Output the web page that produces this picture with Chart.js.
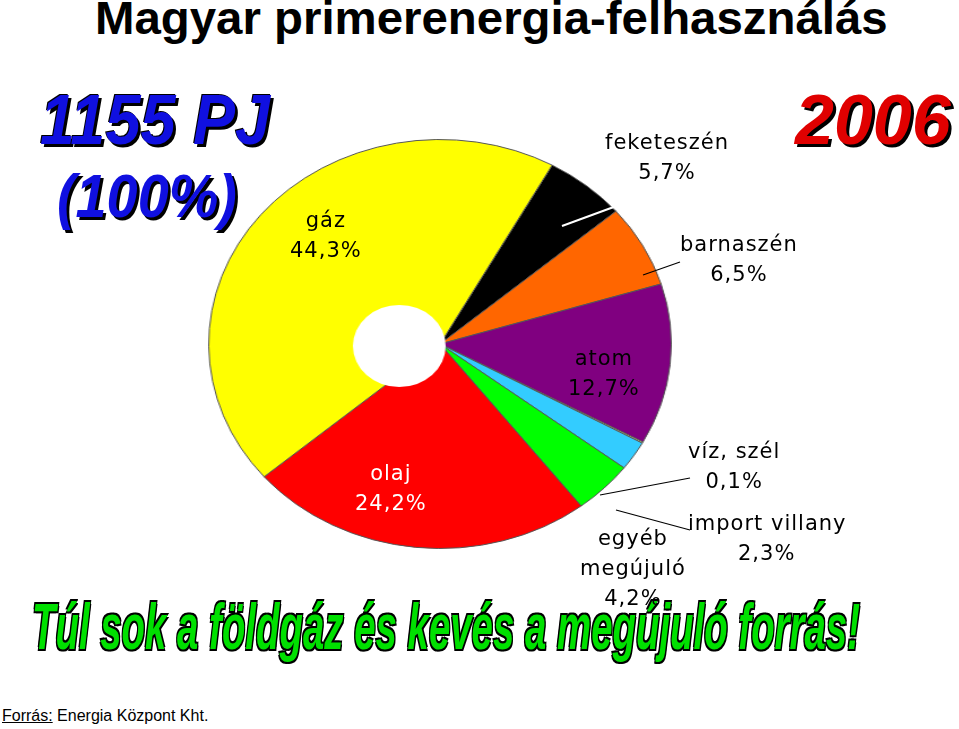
<!DOCTYPE html><html><head><meta charset="utf-8">
<script src="https://cdn.jsdelivr.net/npm/chart.js@4/dist/chart.umd.min.js"></script>
<style>
body{margin:0;width:959px;height:729px;background:#fff;position:relative;overflow:hidden;font-family:"Liberation Sans",Arial,sans-serif}
.a{position:absolute;white-space:nowrap}
.lab{font-family:"DejaVu Sans",sans-serif;font-size:20px;text-align:center;line-height:30px;letter-spacing:1px}
.big{font-family:"Liberation Sans",Arial;font-weight:bold;font-style:italic;transform:scaleX(0.9);transform-origin:left top;}
#wrap{position:absolute;left:234px;top:138px;width:412px;height:412px;transform:scaleX(1.131);transform-origin:center}
</style></head><body>
<div class="a" style="left:95px;top:-9px;font-size:46px;font-weight:bold;transform:scaleX(1.03);transform-origin:left top">Magyar primerenergia-felhasználás</div>
<div class="a big" style="left:40px;top:80px;font-size:70px;color:#1010e0;text-shadow:3px 3px 0 #000,-1px -1px 0 #000">1155 PJ</div>
<div class="a big" style="left:57px;top:160px;font-size:62px;color:#1010e0;text-shadow:3px 3px 0 #000">(100%)</div>
<div class="a big" style="left:795px;top:80px;font-size:70px;color:#e00000;text-shadow:3px 3px 0 #000;transform:scaleX(1)">2006</div>
<div class="a big" style="left:32px;top:590px;font-size:64px;color:#00e000;text-shadow:2px 2px 0 #000,-2px -2px 0 #000,2px -2px 0 #000,-2px 2px 0 #000;transform:scaleX(0.6)">Túl sok a földgáz és kevés a megújuló forrás!</div>
<div class="a" style="left:2px;top:707px;font-size:16px"><u>Forrás:</u> Energia Központ Kht.</div>
<div id="wrap"><canvas id="c" width="412" height="412"></canvas></div>
<svg class="a" style="left:0;top:0" width="959" height="729">
<g stroke="#fff" stroke-width="2"><line x1="562" y1="226" x2="660" y2="190"/></g>
<g stroke="#000" stroke-width="1.2"><line x1="643" y1="275" x2="680" y2="262"/><line x1="600" y1="495" x2="690" y2="478"/><line x1="616" y1="510" x2="690" y2="530"/></g>
</svg>
<div class="a lab" style="left:290px;top:205px;font-size:21px">gáz<br>44,3%</div>
<div class="a lab" style="left:605px;top:127px;font-size:21px">feketeszén<br>5,7%</div>
<div class="a lab" style="left:680px;top:229px;font-size:21px">barnaszén<br>6,5%</div>
<div class="a lab" style="left:568px;top:343px;font-size:21px">atom<br>12,7%</div>
<div class="a lab" style="left:355px;top:458px;color:#fff;font-size:21px">olaj<br>24,2%</div>
<div class="a lab" style="left:688px;top:436px;font-size:21px">víz, szél<br>0,1%</div>
<div class="a lab" style="left:688px;top:508px;font-size:21px">import villany</div>
<div class="a lab" style="left:738px;top:538px;font-size:21px">2,3%</div>
<div class="a lab" style="left:580px;top:523px;font-size:21px">egyéb<br>megújuló<br>4,2%</div>
<script>
const categories=["feketeszén","barnaszén","atom","víz, szél","import villany","egyéb megújuló","olaj","gáz"];
const values=[5.7,6.5,12.7,0.1,2.3,4.2,24.2,44.3];
const colors=["#000000","#ff6600","#800080","#ffff99","#33ccff","#00ff00","#ff0000","#ffff00"];
const hole={id:"hole",afterDraw(ch){const c=ch.ctx;c.save();c.fillStyle="#fff";c.beginPath();c.arc(170,208,41,0,Math.PI*2);c.fill();c.restore();}};
new Chart(document.getElementById("c"),{type:"pie",data:{labels:categories,datasets:[{data:values,backgroundColor:colors,borderColor:"#555",borderWidth:1}]},
options:{responsive:false,animation:false,rotation:29,layout:{padding:1},plugins:{legend:{display:false},tooltip:{enabled:false}}},plugins:[hole]});
</script></body></html>
